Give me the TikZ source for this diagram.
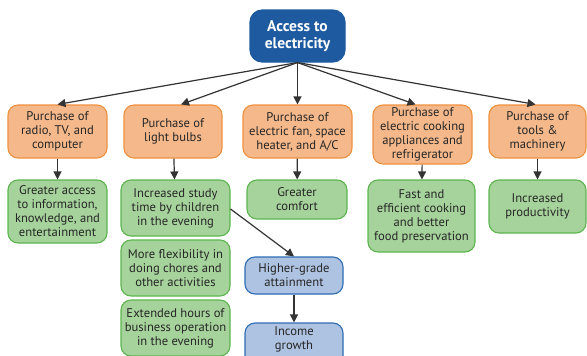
\documentclass[tikz,border=0pt]{standalone}
\usepackage{fontspec}
\setmainfont{PT Sans}
\usetikzlibrary{arrows.meta}
\definecolor{topfill}{HTML}{1D5A9F}
\definecolor{orfill}{HTML}{F5B88A}
\definecolor{ordraw}{HTML}{EE913F}
\definecolor{grfill}{HTML}{A6D39B}
\definecolor{grdraw}{HTML}{5CB54F}
\definecolor{blfill}{HTML}{AEC3E1}
\definecolor{bldraw}{HTML}{2E6CB4}
\definecolor{arr}{HTML}{333333}
\tikzset{
  box/.style={rounded corners=10pt, line width=1.1pt, align=center, inner sep=0pt,
    font=\fontsize{12.6}{14}\selectfont, text=black!85},
  topbox/.style={box, fill=topfill, draw=topfill, rounded corners=12pt, text=white,
    font=\fontsize{15.5}{17.5}\selectfont\bfseries},
  buybox/.style={box, fill=orfill, draw=ordraw},
  effbox/.style={box, fill=grfill, draw=grdraw},
  outbox/.style={box, fill=blfill, draw=bldraw},
  link/.style={draw=arr, line width=1.2pt, -{Triangle[length=8pt,width=8pt]}},
}
\newcommand{\bx}[6]{% style, name, x1, y1, x2, y2 ; text follows
  \node[#1, minimum width={#5-#3}, minimum height={#6-#4}] (#2) at ({(#3+#5)/2},{(#4+#6)/2})}
\begin{document}
\begin{tikzpicture}[x=1pt,y=-1pt]
\useasboundingbox (0,0) rectangle (587,356);
% source
\bx{topbox}{top}{250}{10}{345}{62} {Access to\\electricity};
% purchases
\bx{buybox}{radio}{8}{105}{107}{158} {Purchase of\\radio, TV, and\\computer};
\bx{buybox}{bulbs}{124}{105}{222}{158} {Purchase of\\light bulbs};
\bx{buybox}{fan}{243}{105}{352}{158} {Purchase of\\electric fan, space\\heater, and A/C};
\bx{buybox}{cook}{373}{105}{472}{164} {Purchase of\\electric cooking\\appliances and\\refrigerator};
\bx{buybox}{tools}{489}{105}{586}{158} {Purchase of\\tools \&\\machinery};
% effects
\bx{effbox}{info}{8}{180}{107}{243} {Greater access\\to information,\\knowledge, and\\entertainment};
\bx{effbox}{study}{121}{180}{230}{236} {Increased study\\time by children\\in the evening};
\bx{effbox}{flex}{121}{240}{230}{296} {More flexibility in\\doing chores and\\other activities};
\bx{effbox}{hours}{121}{300}{230}{356} {Extended hours of\\business operation\\in the evening};
\bx{effbox}{comfort}{247}{180}{347}{219} {Greater\\comfort};
\bx{effbox}{food}{368}{180}{475}{252} {Fast and\\efficient cooking\\and better\\food preservation};
\bx{effbox}{prod}{489}{180}{586}{233} {Increased\\productivity};
% outcomes
\bx{outbox}{grade}{245}{257}{343}{294} {Higher-grade\\attainment};
\bx{outbox}{income}{245}{323}{343}{372} {Income\\growth\\[5pt]};
% connectors
\draw[link] (top.south) -- (radio.north);
\draw[link] (top.south) -- ([xshift=8pt]bulbs.north);
\draw[link] (top.south) -- (fan.north);
\draw[link] (top.south) -- ([xshift=-7pt]cook.north);
\draw[link] (top.south) -- ([xshift=-2pt]tools.north);
\draw[link] (radio) -- (info);
\draw[link] (bulbs) -- (study);
\draw[link] (fan) -- (comfort);
\draw[link] (cook) -- (food);
\draw[link] (tools) -- (prod);
\draw[link] ([yshift=-1pt]study.east) -- (grade.north);
\draw[link] (grade) -- (income);
\end{tikzpicture}
\end{document}
